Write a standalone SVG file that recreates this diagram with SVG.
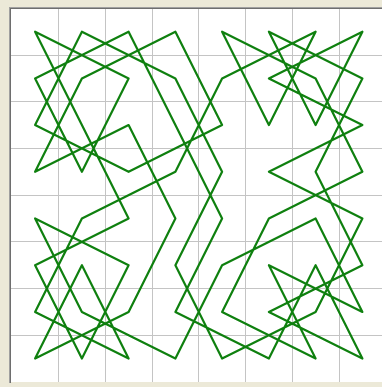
<svg xmlns="http://www.w3.org/2000/svg" width="382" height="387" viewBox="0 0 382 387">
<style>
.grid{stroke:#c4c4c4;stroke-width:1;fill:none}
.tour{stroke:#0f800f;stroke-width:2.2;fill:none;stroke-linejoin:round;stroke-linecap:round}
</style>
<rect x="0" y="0" width="382" height="387" fill="#ece9d8"/>
<rect x="11" y="9" width="371" height="373" fill="#ffffff"/>
<line x1="9.5" y1="8" x2="9.5" y2="383" stroke="#a0a0a0"/>
<line x1="10.5" y1="8" x2="10.5" y2="383" stroke="#6e6e6e"/>
<line x1="9" y1="7.5" x2="382" y2="7.5" stroke="#a0a0a0"/>
<line x1="10" y1="8.5" x2="382" y2="8.5" stroke="#6e6e6e"/>
<g class="grid">
<path d="M58.5 9V382M105.5 9V382M152.5 9V382M198.5 9V382M245.5 9V382M292.5 9V382M339.5 9V382"/>
<path d="M11 55.5H382M11 101.5H382M11 148.5H382M11 195.5H382M11 241.5H382M11 288.5H382M11 335.5H382"/>
</g>
<g id="connectors" class="tour">
<path id="knight-tour" d="M35.1 31.7L81.9 125.1L128.6 218.5L35.1 265.2L81.9 358.6L128.6 265.2L35.1 218.5L81.9 311.9L175.4 358.6L222.1 265.2L315.6 218.5L362.4 311.9L268.9 265.2L315.6 358.6L222.1 311.9L268.9 218.5L362.4 171.8L315.6 78.4L222.1 31.7L268.9 125.1L315.6 31.7L222.1 78.4L175.4 171.8L81.9 218.5L35.1 311.9L128.6 358.6L81.9 265.2L35.1 358.6L128.6 311.9L175.4 218.5L128.6 125.1L35.1 171.8L81.9 78.4L175.4 31.7L222.1 125.1L128.6 171.8L35.1 125.1L81.9 31.7L175.4 78.4L222.1 171.8L175.4 265.2L222.1 358.6L315.6 311.9L362.4 218.5L268.9 171.8L362.4 125.1L268.9 78.4L362.4 31.7L315.6 125.1L268.9 31.7L362.4 78.4L315.6 171.8L362.4 265.2L268.9 311.9L362.4 358.6L315.6 265.2L268.9 358.6L175.4 311.9L222.1 218.5L175.4 125.1L128.6 31.7L35.1 78.4L81.9 171.8L128.6 78.4Z"/>
</g>
</svg>
